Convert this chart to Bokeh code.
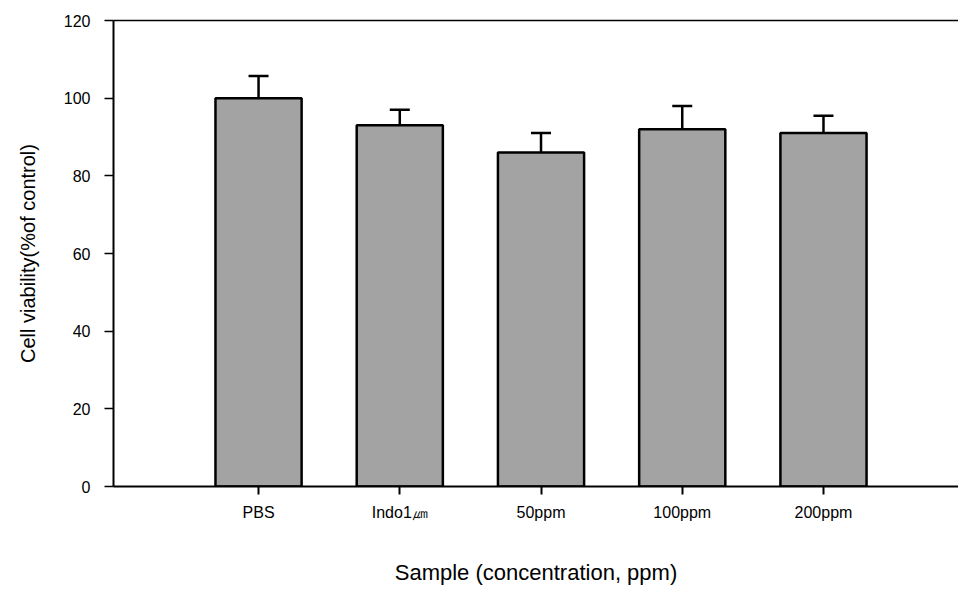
from bokeh.plotting import figure
from bokeh.models import (ColumnDataSource, Range1d, FixedTicker, Whisker, TeeHead,
                          LinearAxis)
from bokeh.embed import file_html
from bokeh.resources import INLINE

# ---- data ----
categories = ["PBS", "Indo1㎛", "50ppm", "100ppm", "200ppm"]
viability = [100, 93, 86, 92, 91]
error = [5.7, 4.0, 5.0, 6.0, 4.5]
y_ticks = [0, 20, 40, 60, 80, 100, 120]

xpos = list(range(1, len(categories) + 1))
src = ColumnDataSource(dict(
    x=xpos,
    top=viability,
    upper=[v + e for v, e in zip(viability, error)],
))

FONT = "Liberation Sans"

p = figure(width=958, height=591, output_backend="svg", toolbar_location=None,
           x_range=Range1d(-0.027, 5.956), y_range=Range1d(0, 120),
           min_border_left=113, min_border_right=0, min_border_top=20,
           min_border_bottom=105)
p.background_fill_color = "white"
p.border_fill_color = "white"
p.outline_line_color = None
p.grid.visible = False

p.vbar(x="x", top="top", width=0.61, bottom=0, source=src,
       fill_color="#a3a3a3", line_color="black", line_width=2.5)

wh = Whisker(source=src, base="x", lower="top", upper="upper",
             upper_head=TeeHead(size=20, line_width=2.5, line_color="black"),
             lower_head=None, line_width=2.5, line_color="black")
p.add_layout(wh)

# x axis
xa = p.xaxis[0]
xa.ticker = FixedTicker(ticks=xpos)
xa.major_label_overrides = {i: c for i, c in zip(xpos, categories)}
xa.minor_tick_line_color = None
xa.major_tick_out = 8
xa.major_tick_in = 0
xa.major_tick_line_width = 2
xa.axis_line_width = 2
xa.major_label_text_font = FONT
xa.major_label_text_font_size = "16px"
xa.major_label_text_color = "black"
xa.major_label_standoff = 9
xa.axis_label = "Sample (concentration, ppm)"
xa.axis_label_text_font = FONT
xa.axis_label_text_font_size = "22px"
xa.axis_label_text_font_style = "normal"
xa.axis_label_text_color = "black"
xa.axis_label_standoff = 36

# y axis
ya = p.yaxis[0]
ya.ticker = FixedTicker(ticks=y_ticks)
ya.minor_tick_line_color = None
ya.major_tick_out = 9
ya.major_tick_in = 0
ya.major_tick_line_width = 1.5
ya.axis_line_width = 2
ya.major_label_text_font = FONT
ya.major_label_text_font_size = "16px"
ya.major_label_text_color = "black"
ya.major_label_standoff = 14
ya.axis_label = "Cell viability(%of control)"
ya.axis_label_text_font = FONT
ya.axis_label_text_font_size = "20px"
ya.axis_label_text_font_style = "normal"
ya.axis_label_text_color = "black"
ya.axis_label_standoff = 22

# top border line
top = LinearAxis(ticker=FixedTicker(ticks=[]), major_tick_line_color=None,
                 minor_tick_line_color=None, major_label_text_font_size="0px",
                 axis_line_width=1.5, axis_line_color="black")
p.add_layout(top, "above")

open("out.html", "w").write(file_html(p, INLINE))
